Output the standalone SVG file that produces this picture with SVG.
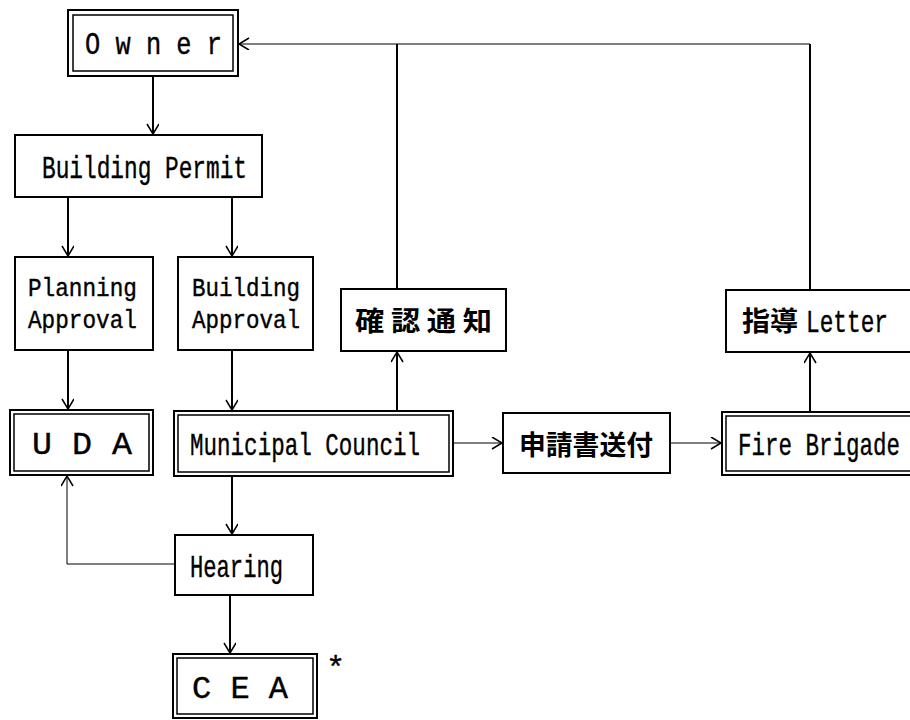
<svg xmlns="http://www.w3.org/2000/svg" width="910" height="720" viewBox="0 0 910 720">
<style>
.b{fill:#fff;stroke:#000;stroke-width:2}
.bi{fill:none;stroke:#000;stroke-width:1.5}
.t{font-family:"Liberation Mono",monospace;font-size:32px;fill:#000;stroke:#000;stroke-width:0.4}
.t2{font-family:"Liberation Mono",monospace;font-size:26px;fill:#000;stroke:#000;stroke-width:0.4}
.j{font-family:"Noto Sans CJK JP",sans-serif;font-size:27px;fill:#000;font-weight:bold}
.k{fill:none;stroke:#000;stroke-width:2}
.n{fill:none;stroke:#000;stroke-width:1}
</style>
<defs>
<marker id="a" markerUnits="userSpaceOnUse" markerWidth="14" markerHeight="14" refX="11" refY="6" orient="auto">
<path d="M1,0 L11,6 L1,12" fill="none" stroke="#000" stroke-width="1.5"/>
</marker>
</defs>
<rect width="910" height="720" fill="#fff"/>
<g id="connectors">
<path class="k" d="M153,76 V134" marker-end="url(#a)"/>
<path class="k" d="M68,197 V256" marker-end="url(#a)"/>
<path class="k" d="M232,197 V256" marker-end="url(#a)"/>
<path class="k" d="M68,350 V409" marker-end="url(#a)"/>
<path class="k" d="M232,350 V410" marker-end="url(#a)"/>
<path class="k" d="M397,411 V352" marker-end="url(#a)"/>
<path class="k" d="M397,289 V44"/>
<path class="k" d="M810,290 V44"/>
<path class="n" d="M810,44 H239" marker-end="url(#a)"/>
<path class="k" d="M810,412 V353" marker-end="url(#a)"/>
<path class="n" d="M453,443 H502" marker-end="url(#a)"/>
<path class="n" d="M670,443 H721" marker-end="url(#a)"/>
<path class="k" d="M232,476 V534" marker-end="url(#a)"/>
<path class="n" d="M175,564 H67 V476" marker-end="url(#a)"/>
<path class="k" d="M230,595 V653" marker-end="url(#a)"/>
</g>
<g id="owner">
<rect class="b" x="68" y="10" width="170" height="66"/>
<rect class="bi" x="73" y="15" width="160" height="56"/>
<text class="t" x="85" y="54" textLength="137" lengthAdjust="spacingAndGlyphs">O w n e r</text>
</g>
<g id="building-permit">
<rect class="b" x="15" y="135" width="247" height="62"/>
<text class="t" x="42" y="178" textLength="205" lengthAdjust="spacingAndGlyphs">Building Permit</text>
</g>
<g id="planning-approval">
<rect class="b" x="15" y="257" width="138" height="93"/>
<text class="t2" x="28" y="296" textLength="109" lengthAdjust="spacingAndGlyphs">Planning</text>
<text class="t2" x="28" y="328" textLength="109" lengthAdjust="spacingAndGlyphs">Approval</text>
</g>
<g id="building-approval">
<rect class="b" x="178" y="257" width="135" height="93"/>
<text class="t2" x="192" y="296" textLength="108" lengthAdjust="spacingAndGlyphs">Building</text>
<text class="t2" x="192" y="328" textLength="108" lengthAdjust="spacingAndGlyphs">Approval</text>
</g>
<g id="kakunin">
<rect class="b" x="341" y="289" width="165" height="62"/>
<text class="j" x="355" y="331" textLength="137" lengthAdjust="spacingAndGlyphs">確 認 通 知</text>
</g>
<g id="shido-letter">
<rect class="b" x="726" y="290" width="200" height="62"/>
<text class="j" x="742" y="331" textLength="56" lengthAdjust="spacingAndGlyphs">指導</text>
<text class="t" x="806" y="332" textLength="82" lengthAdjust="spacingAndGlyphs">Letter</text>
</g>
<g id="uda">
<rect class="b" x="10" y="410" width="143" height="65"/>
<rect class="bi" x="14" y="414" width="135" height="57"/>
<text class="t" x="32" y="454" textLength="100" lengthAdjust="spacingAndGlyphs">U D A</text>
</g>
<g id="municipal-council">
<rect class="b" x="174" y="411" width="279" height="65"/>
<rect class="bi" x="178" y="415" width="271" height="57"/>
<text class="t" x="190" y="455" textLength="230" lengthAdjust="spacingAndGlyphs">Municipal Council</text>
</g>
<g id="shinsei">
<rect class="b" x="503" y="413" width="167" height="60"/>
<text class="j" x="519" y="455" textLength="134" lengthAdjust="spacingAndGlyphs">申請書送付</text>
</g>
<g id="fire-brigade">
<rect class="b" x="722" y="412" width="200" height="63"/>
<rect class="bi" x="726" y="416" width="200" height="55"/>
<text class="t" x="738" y="455" textLength="162" lengthAdjust="spacingAndGlyphs">Fire Brigade</text>
</g>
<g id="hearing">
<rect class="b" x="175" y="535" width="138" height="60"/>
<text class="t" x="190" y="577" textLength="93" lengthAdjust="spacingAndGlyphs">Hearing</text>
</g>
<g id="cea">
<rect class="b" x="173" y="654" width="144" height="64"/>
<rect class="bi" x="177" y="658" width="136" height="56"/>
<text class="t" x="192" y="698" textLength="96" lengthAdjust="spacingAndGlyphs">C E A</text>
<text class="t" x="326" y="678" font-size="26">*</text>
</g>
</svg>
